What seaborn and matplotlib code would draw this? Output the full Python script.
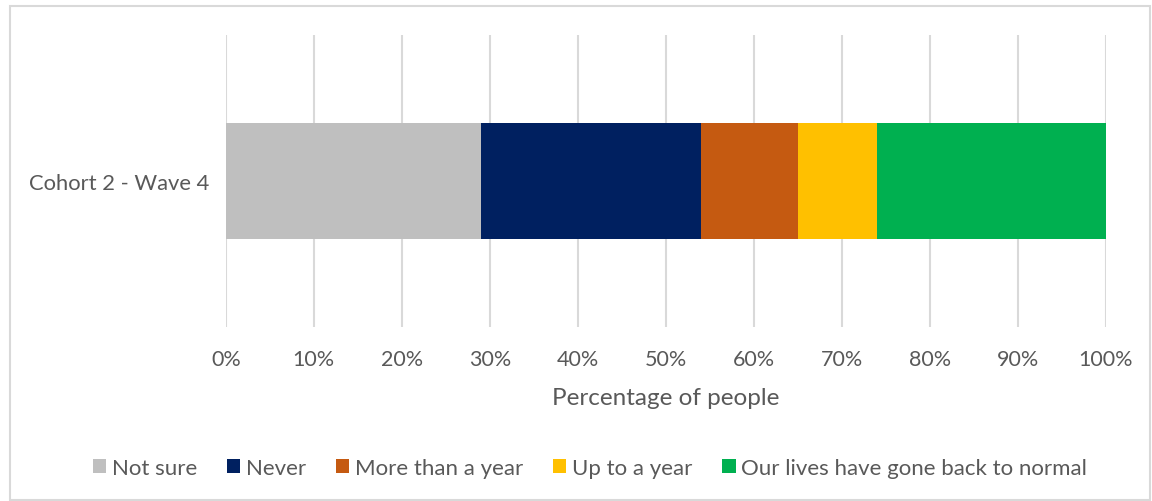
import numpy as np
import pandas as pd
import matplotlib
matplotlib.use("Agg")
import matplotlib.pyplot as plt
import seaborn as sns
from matplotlib.patches import Patch, Rectangle

# Data
cohort = ["Cohort 2 - Wave 4"]
responses = ["Not sure", "Never", "More than a year", "Up to a year",
             "Our lives have gone back to normal"]
values = [29, 25, 11, 9, 26]
colors = ["#bfbfbf", "#002060", "#c55a11", "#ffc000", "#00b050"]

sns.set_theme(style="white")
plt.rcParams["font.family"] = ["Lato", "DejaVu Sans"]
text_col = "#595959"

df = pd.DataFrame({"Response": responses, "Value": values})
df["Cumulative"] = np.cumsum(df["Value"])
df["Group"] = cohort[0]

fig = plt.figure(figsize=(11.52, 5.02), dpi=100)
ax = fig.add_axes([0.196, 0.347, 0.764, 0.581])

# stacked bars: draw cumulative totals from the largest down
for i in reversed(range(len(responses))):
    sns.barplot(data=df.iloc[[i]], x="Cumulative", y="Group", color=colors[i],
                saturation=1, width=0.4, ax=ax, orient="h",
                linewidth=0, edgecolor="none")

ax.set_xlim(0, 100)
ax.set_ylim(0.5, -0.5)
ax.set_xticks(range(0, 101, 10))
ax.set_xticklabels([f"{t}%" for t in range(0, 101, 10)])
ax.xaxis.grid(True, color="#d9d9d9", linewidth=1.5)
ax.set_axisbelow(True)
for s in ax.spines.values():
    s.set_visible(False)
ax.tick_params(axis="both", length=0, labelsize=15.5, labelcolor=text_col)
ax.tick_params(axis="x", pad=16)
ax.tick_params(axis="y", labelsize=15.8, pad=12)
ax.set_xlabel("Percentage of people", fontsize=17.5, color=text_col, labelpad=13)
ax.set_ylabel("")

handles = [Patch(facecolor=c, edgecolor="none") for c in colors]
fig.legend(handles, responses, loc="center", bbox_to_anchor=(0.512, 0.066),
           ncol=5, frameon=False, fontsize=16, labelcolor=text_col,
           handlelength=0.6, handleheight=0.6, handletextpad=0.25,
           columnspacing=1.35)

# outer chart border
fig.patches.append(Rectangle((10 / 1152, 0.002), 1 - 12 / 1152, 1 - 7 / 502 - 0.002,
                             transform=fig.transFigure, fill=False,
                             edgecolor="#d9d9d9", linewidth=1.5))

fig.savefig("out.png", dpi=100)
